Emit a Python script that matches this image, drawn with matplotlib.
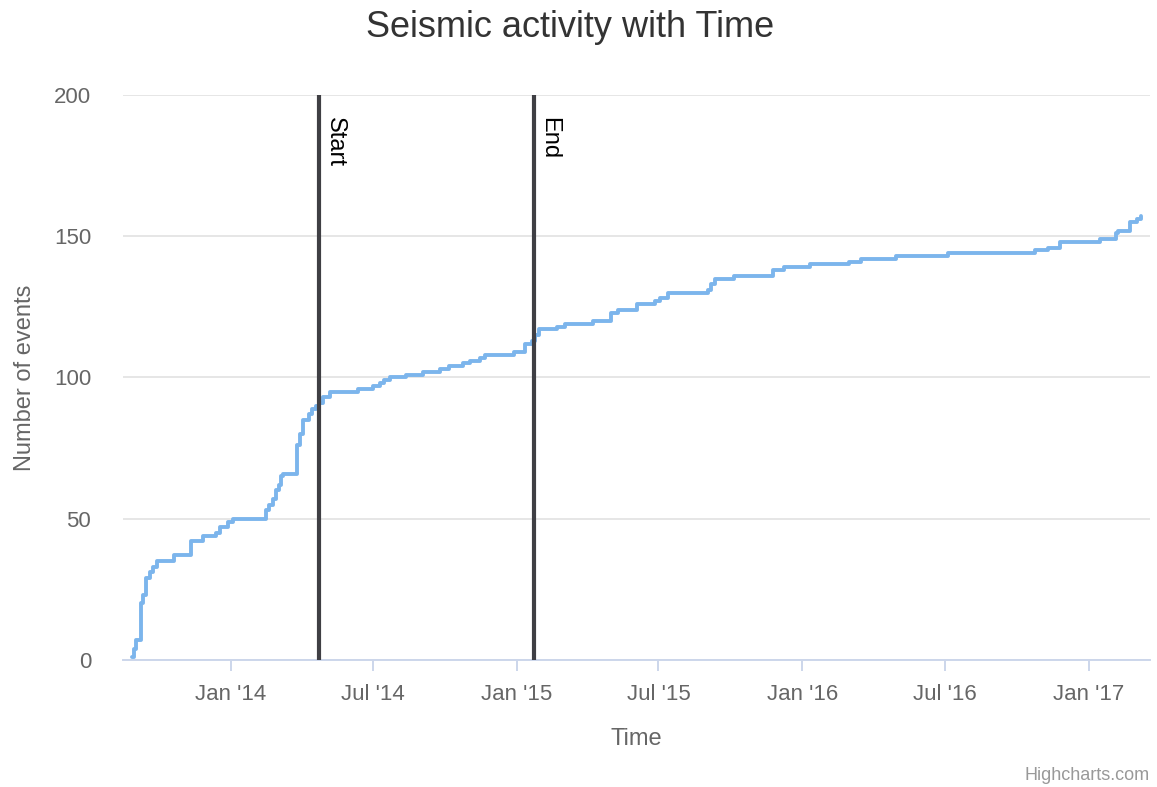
import matplotlib
matplotlib.use("Agg")
import matplotlib.pyplot as plt
import pandas as pd

plt.rcParams['font.family'] = ['Liberation Sans', 'DejaVu Sans']

# cumulative count of seismic events
event_dates = [
    "2013-08-27", "2013-08-30", "2013-09-02", "2013-09-08", "2013-09-11",
    "2013-09-14", "2013-09-19", "2013-09-23", "2013-09-29", "2013-10-20",
    "2013-11-11", "2013-11-26", "2013-12-13", "2013-12-18", "2013-12-28",
    "2014-01-03", "2014-02-15", "2014-02-19", "2014-02-23", "2014-02-28",
    "2014-03-03", "2014-03-06", "2014-03-08", "2014-03-26", "2014-03-30",
    "2014-04-03", "2014-04-11", "2014-04-15", "2014-04-20", "2014-04-24",
    "2014-04-29", "2014-05-07", "2014-06-12", "2014-07-01", "2014-07-10",
    "2014-07-15", "2014-07-23", "2014-08-13", "2014-09-03", "2014-09-25",
    "2014-10-07", "2014-10-24", "2014-11-02", "2014-11-15", "2014-11-21",
    "2014-12-29", "2015-01-11", "2015-01-20", "2015-01-24", "2015-01-30",
    "2015-02-22", "2015-03-03", "2015-04-08", "2015-05-02", "2015-05-10",
    "2015-06-03", "2015-06-27", "2015-07-03", "2015-07-13", "2015-09-02",
    "2015-09-06", "2015-09-11", "2015-10-05", "2015-11-24", "2015-12-09",
    "2016-01-11", "2016-02-29", "2016-03-16", "2016-04-30", "2016-07-05",
    "2016-10-24", "2016-11-09", "2016-11-25", "2017-01-15", "2017-02-05",
    "2017-02-07", "2017-02-23", "2017-03-03", "2017-03-09",
]
event_counts = [
    1, 4, 7, 20, 23,
    29, 31, 33, 35, 37,
    42, 44, 45, 47, 49,
    50, 53, 55, 57, 60,
    62, 65, 66, 76, 80,
    85, 87, 89, 90, 91,
    93, 95, 96, 97, 98,
    99, 100, 101, 102, 103,
    104, 105, 106, 107, 108,
    109, 112, 113, 115, 117,
    118, 119, 120, 123, 124,
    126, 127, 128, 130, 131,
    133, 135, 136, 138, 139,
    140, 141, 142, 143, 144,
    145, 146, 148, 149, 151,
    152, 155, 156, 157,
]

marker_labels = ["Start", "End"]
marker_dates = ["2014-04-24", "2015-01-23"]

tick_dates = ["2014-01-01", "2014-07-01", "2015-01-01", "2015-07-01",
              "2016-01-01", "2016-07-01", "2017-01-01"]
tick_labels = ["Jan '14", "Jul '14", "Jan '15", "Jul '15",
               "Jan '16", "Jul '16", "Jan '17"]

x = pd.to_datetime(event_dates)

fig = plt.figure(figsize=(11.57, 7.87), dpi=100)
ax = fig.add_axes([0.1063, 0.1614, 0.8877, 0.7179])

ax.step(x, event_counts, where='post', color='#7cb5ec', lw=2.8, zorder=3,
        solid_joinstyle='round', solid_capstyle='round')

for lab, d in zip(marker_labels, marker_dates):
    dt = pd.Timestamp(d)
    ax.axvline(dt, color='#3f3f44', lw=3.0, zorder=4)
    ax.annotate(lab, xy=(dt, 200), xytext=(3, -16), textcoords='offset points',
                rotation=270, ha='left', va='top', fontsize=17, color='#000000')

ax.set_xlim(pd.Timestamp("2013-08-16"), pd.Timestamp("2017-03-20"))
ax.set_ylim(0, 200)
ax.set_yticks([0, 50, 100, 150, 200])
ax.grid(axis='y', color='#e6e6e6', lw=1.4)
ax.set_axisbelow(True)

ax.set_xticks(pd.to_datetime(tick_dates))
ax.set_xticklabels(tick_labels)

for s in ['top', 'right', 'left']:
    ax.spines[s].set_visible(False)
ax.spines['bottom'].set_color('#ccd6eb')
ax.spines['bottom'].set_linewidth(1.4)

ax.tick_params(axis='x', length=8, width=1.4, color='#ccd6eb', labelcolor='#666666',
               labelsize=16, pad=9)
ax.tick_params(axis='y', length=0, labelcolor='#666666', labelsize=16, pad=23)

ax.set_xlabel("Time", fontsize=17, color='#666666', labelpad=17)
ax.set_ylabel("Number of events", fontsize=17, color='#666666', labelpad=13)

fig.text(0.4926, 0.965, "Seismic activity with Time", ha='center', va='center',
         fontsize=26, color='#333333')
fig.text(0.994, 0.004, "Highcharts.com", ha='right', va='bottom',
         fontsize=13, color='#999999')

fig.savefig("out.png", dpi=100)
